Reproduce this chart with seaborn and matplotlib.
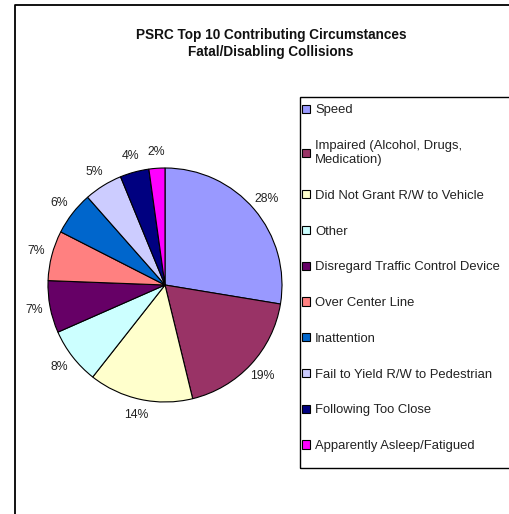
import matplotlib
matplotlib.use("Agg")
import matplotlib.pyplot as plt
from matplotlib.lines import Line2D
from matplotlib.patches import Rectangle
import seaborn as sns

# Chart data (shares in percent)
circumstances = [
    "Speed",
    "Impaired (Alcohol, Drugs,\nMedication)",
    "Did Not Grant R/W to Vehicle",
    "Other",
    "Disregard Traffic Control Device",
    "Over Center Line",
    "Inattention",
    "Fail to Yield R/W to Pedestrian",
    "Following Too Close",
    "Apparently Asleep/Fatigued",
]
shares = [27.6, 18.6, 14.4, 7.8, 7.2, 6.9, 6.0, 5.3, 4.0, 2.2]
slice_colors = ["#9999FF", "#993366", "#FFFFCC", "#CCFFFF", "#660066",
                "#FF8080", "#0066CC", "#CCCCFF", "#000080", "#FF00FF"]

sns.set_theme(style="white")
plt.rcParams["font.family"] = ["Liberation Sans", "DejaVu Sans"]

W, H = 509, 514
fig = plt.figure(figsize=(W / 100, H / 100), dpi=100)
fig.patch.set_facecolor("white")

# Pie axes: centre (165, 285) px, radius 117 px
cx, cy, r, half = 165, 285, 117, 140
ax = fig.add_axes([(cx - half) / W, (H - cy - half) / H, 2 * half / W, 2 * half / H])
wedges, _, pct_texts = ax.pie(
    shares, colors=slice_colors, startangle=90, counterclock=False,
    autopct="%1.0f%%", pctdistance=1.14,
    wedgeprops=dict(edgecolor="black", linewidth=0.8),
    textprops=dict(fontsize=8.8, color="#222222"),
)
lim = half / r
ax.set_xlim(-lim, lim)
ax.set_ylim(-lim, lim)
ax.set_axis_off()

# Title
fig.text(271 / W, 1 - 43.5 / H,
         "PSRC Top 10 Contributing Circumstances\nFatal/Disabling Collisions",
         ha="center", va="center", fontsize=9.8, fontweight="bold",
         linespacing=1.25, color="#111111")

# Outer chart frame (only left and top edges fall inside the picture)
fig.add_artist(Line2D([15 / W, 15 / W, 1.01], [-0.01, 1 - 5 / H, 1 - 5 / H],
                      transform=fig.transFigure, color="black", linewidth=1.3))

# Legend box
fig.add_artist(Rectangle((300 / W, 1 - 468 / H), 0.5, (468 - 97) / H,
                         transform=fig.transFigure, facecolor="none",
                         edgecolor="black", linewidth=1.0))
fig.legend(wedges, circumstances, loc="upper left",
           bbox_to_anchor=(302 / W, 1 - 104.5 / H), frameon=False,
           borderpad=0, borderaxespad=0, handlelength=0.6, handleheight=0.6,
           handletextpad=0.4, labelspacing=1.82, fontsize=9.4,
           labelcolor="#222222")

fig.savefig("out.png", dpi=100)
